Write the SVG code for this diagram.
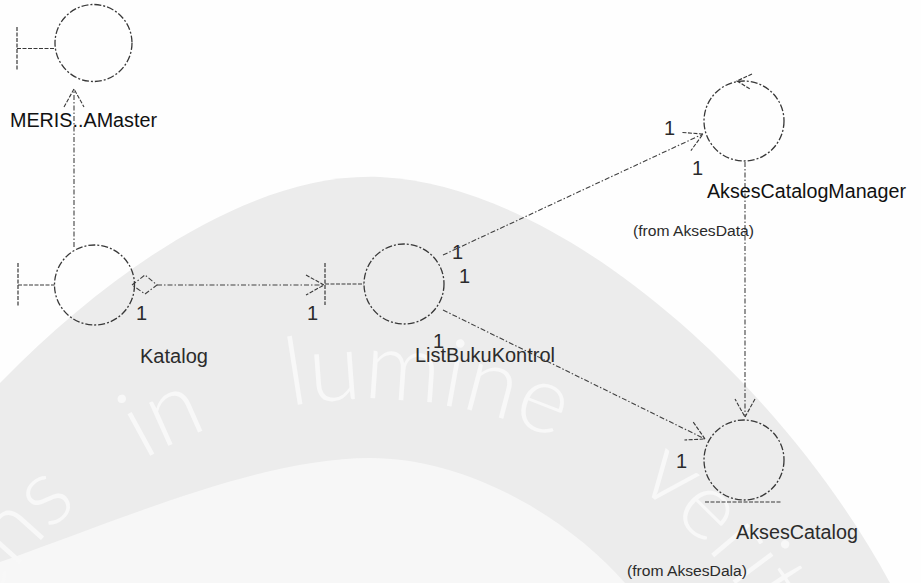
<svg xmlns="http://www.w3.org/2000/svg" width="921" height="583" viewBox="0 0 921 583">
  <style>
    .band { fill: #ececec; }
    .inner { fill: #f7f7f7; }
    .wm { fill: #f8f8f8; font-family: Lato, "Liberation Sans", sans-serif; font-weight: 300; font-size: 95px; }
    .shape { fill: none; stroke: #383838; stroke-width: 1.3; stroke-dasharray: 7 2 2 2; }
    .bar { fill: none; stroke: #383838; stroke-width: 1.2; stroke-dasharray: 4 1.5; }
    .link { fill: none; stroke: #404040; stroke-width: 1.1; stroke-dasharray: 5 2 1.5 2; }
    .label { font-family: "Liberation Sans", Arial, sans-serif; font-size: 20px; fill: #2b2b2b; }
    .dark { fill: #111; }
    .pkg { font-family: "Liberation Sans", Arial, sans-serif; font-size: 15.5px; fill: #2b2b2b; }
    .mult { font-family: "Liberation Sans", Arial, sans-serif; font-size: 20px; fill: #2b2b2b; }
  </style>
  <defs>
    <marker id="open" markerUnits="userSpaceOnUse" viewBox="-20 -12 22 24" refX="0" refY="0" markerWidth="22" markerHeight="24" orient="auto">
      <path d="M -18 -10 L 0 0 L -18 10" fill="none" stroke="#383838" stroke-width="1.1" stroke-dasharray="4 1.5"/>
    </marker>
    <path id="wmArc" d="M -77 773 A 454 454 0 1 1 797 1007"/>
  </defs>

  <!-- paper and faint seal in the background -->
  <rect x="0" y="0" width="921" height="583" fill="#fefefe"/>
  <g id="watermark">
    <path class="band" d="M 0 383 C 120 260 260 172 380 177 C 560 185 780 380 890 583 L 0 583 Z"/>
    <path class="inner" d="M 0 562 C 120 520 260 458 370 458 C 470 458 570 520 625 583 L 0 583 Z"/>
    <text class="wm"><textPath href="#wmArc" startOffset="175">ens</textPath></text>
    <text class="wm"><textPath href="#wmArc" startOffset="395">in</textPath></text>
    <text class="wm"><textPath href="#wmArc" startOffset="552">lumine</textPath></text>
    <text class="wm"><textPath href="#wmArc" startOffset="915">veritas</textPath></text>
  </g>

  <!-- associations -->
  <g id="connectors">
    <line class="link" x1="74" y1="247" x2="74" y2="89" marker-end="url(#open)"/>
    <path class="link" d="M 132 285 L 145 275 L 157 285 L 145 294 Z"/>
    <line class="link" x1="157" y1="285" x2="324" y2="285" marker-end="url(#open)"/>
    <line class="link" x1="443" y1="255" x2="703" y2="134" marker-end="url(#open)"/>
    <line class="link" x1="443" y1="310" x2="705" y2="439" marker-end="url(#open)"/>
    <line class="link" x1="745" y1="162" x2="745" y2="417" marker-end="url(#open)"/>
    <text class="mult" x="136" y="320">1</text>
    <text class="mult" x="307" y="320">1</text>
    <text class="mult" x="452" y="259">1</text>
    <text class="mult" x="459" y="283">1</text>
    <text class="mult" x="433" y="348">1</text>
    <text class="mult dark" x="664" y="135">1</text>
    <text class="mult dark" x="692" y="175">1</text>
    <text class="mult" x="676" y="468">1</text>
  </g>

  <!-- boundary class -->
  <g id="MERISTAMaster">
    <circle class="shape" cx="93.5" cy="43" r="38.5"/>
    <line class="bar" x1="17" y1="27" x2="17" y2="70"/>
    <line class="bar" x1="17" y1="48.5" x2="55" y2="48.5"/>
    <text class="label dark" x="10" y="127" textLength="147" lengthAdjust="spacingAndGlyphs">MERIS..AMaster</text>
  </g>

  <!-- boundary class -->
  <g id="Katalog">
    <circle class="shape" cx="94.5" cy="285" r="40"/>
    <line class="bar" x1="18" y1="263" x2="18" y2="307"/>
    <line class="bar" x1="18" y1="285" x2="54.5" y2="285"/>
    <text class="label" x="140" y="363" textLength="68" lengthAdjust="spacingAndGlyphs">Katalog</text>
  </g>

  <!-- boundary class -->
  <g id="ListBukuKontrol">
    <circle class="shape" cx="404" cy="284" r="40"/>
    <line class="bar" x1="325" y1="263" x2="325" y2="305"/>
    <line class="bar" x1="325" y1="284" x2="364" y2="284"/>
    <text class="label" x="415" y="362" textLength="140" lengthAdjust="spacingAndGlyphs">ListBukuKontrol</text>
  </g>

  <!-- control class -->
  <g id="AksesCatalogManager">
    <circle class="shape" cx="744" cy="121" r="40"/>
    <path class="bar" d="M 752 74 L 737 81 L 750 89"/>
    <text class="label dark" x="707" y="198" textLength="199" lengthAdjust="spacingAndGlyphs">AksesCatalogManager</text>
    <text class="pkg" x="633" y="236" textLength="121" lengthAdjust="spacingAndGlyphs">(from AksesData)</text>
  </g>

  <!-- entity class -->
  <g id="AksesCatalog">
    <circle class="shape" cx="744" cy="460" r="40"/>
    <line class="bar" x1="705" y1="502" x2="781" y2="502"/>
    <text class="label" x="736" y="539" textLength="122" lengthAdjust="spacingAndGlyphs">AksesCatalog</text>
    <text class="pkg" x="627" y="576" textLength="120" lengthAdjust="spacingAndGlyphs">(from AksesDala)</text>
  </g>
</svg>
